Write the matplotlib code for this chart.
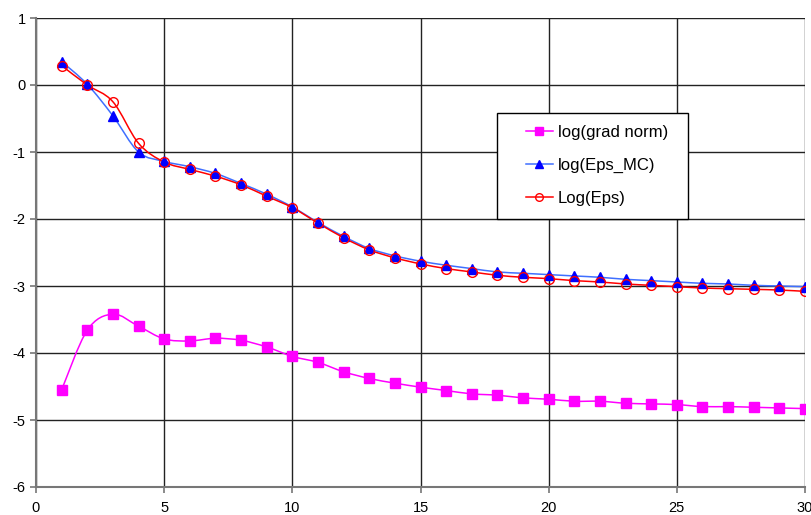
import numpy as np
import matplotlib
matplotlib.use("Agg")
import matplotlib.pyplot as plt
from matplotlib.path import Path
from matplotlib.patches import PathPatch, Rectangle
from matplotlib.lines import Line2D

plt.rcParams['font.family'] = ['Liberation Sans', 'DejaVu Sans']
plt.rcParams['axes.unicode_minus'] = False

x = list(range(1, 31))
grad_norm = [-4.55, -3.66, -3.42, -3.60, -3.79, -3.82, -3.78, -3.81, -3.91, -4.05,
             -4.14, -4.28, -4.38, -4.45, -4.51, -4.56, -4.61, -4.63, -4.67, -4.69,
             -4.72, -4.72, -4.75, -4.76, -4.77, -4.80, -4.80, -4.81, -4.82, -4.83]
eps_mc = [0.35, 0.01, -0.46, -1.00, -1.14, -1.22, -1.32, -1.47, -1.63, -1.82,
          -2.05, -2.26, -2.44, -2.55, -2.63, -2.69, -2.74, -2.79, -2.81, -2.83,
          -2.85, -2.87, -2.90, -2.92, -2.94, -2.96, -2.97, -2.99, -3.00, -3.01]
eps = [0.29, 0.00, -0.25, -0.87, -1.15, -1.26, -1.36, -1.49, -1.66, -1.83,
       -2.06, -2.28, -2.46, -2.58, -2.67, -2.74, -2.79, -2.84, -2.87, -2.89,
       -2.92, -2.94, -2.97, -2.99, -3.01, -3.03, -3.04, -3.05, -3.06, -3.08]
labels = ["log(grad norm)", "log(Eps_MC)", "Log(Eps)"]

W, H = 811, 515
L, R, T, B = 36, 805, 18, 487
fig = plt.figure(figsize=(W / 100, H / 100), dpi=100)
ax = fig.add_axes([L / W, 1 - B / H, (R - L) / W, (B - T) / H])


def ax_xy(px, py):
    return (px - L) / (R - L), 1 - (py - T) / (B - T)


def smooth_path(xs, ys):
    p = np.column_stack([xs, ys]).astype(float)
    n = len(p)
    verts = [p[0]]
    codes = [Path.MOVETO]
    for i in range(n - 1):
        p0 = p[i - 1] if i > 0 else p[i]
        p1 = p[i]
        p2 = p[i + 1]
        p3 = p[i + 2] if i + 2 < n else p[i + 1]
        c1 = p1 + (p2 - p0) / 6.0
        c2 = p2 - (p3 - p1) / 6.0
        verts += [c1, c2, p2]
        codes += [Path.CURVE4] * 3
    return Path(verts, codes)


series = [
    (grad_norm, '#FF00FF', '#FF00FF', 's', '#FF00FF', 6.5, 6.0),
    (eps_mc, '#3F6FFF', '#0000FF', '^', '#0000FF', 7, 6.0),
    (eps, '#FF0000', 'none', 'o', '#FF0000', 7, 5.5),
]
handles = []
for (ys, lc, mfc, mk, mec, ms, lms), lab in zip(series, labels):
    patch = PathPatch(smooth_path(x, ys), facecolor='none', edgecolor=lc, lw=1.1, zorder=3)
    ax.add_patch(patch)
    ax.plot(x, ys, linestyle='none', marker=mk, markersize=ms, markerfacecolor=mfc,
            markeredgecolor=mec, markeredgewidth=1.0, zorder=4)
    handles.append(Line2D([], [], color=lc, lw=1.1, marker=mk, markersize=lms,
                          markerfacecolor=mfc, markeredgecolor=mec))

ax.set_xlim(0, 30)
ax.set_ylim(-6, 1)
ax.set_xticks(range(0, 31, 5))
ax.set_yticks(range(-6, 2))
ax.grid(True, color='#222222', lw=1.0)
ax.set_axisbelow(True)
for s in ['top', 'right']:
    ax.spines[s].set_visible(False)
for s in ['left', 'bottom']:
    ax.spines[s].set_color('#777777')
    ax.spines[s].set_linewidth(1.5)
ax.tick_params(axis='both', labelsize=10.5, length=4, color='#777777', width=1.2)
ax.tick_params(axis='x', pad=6)

# legend box
x0, y0 = ax_xy(497, 219)
x1, y1 = ax_xy(688, 113)
box = Rectangle((x0, y0), x1 - x0, y1 - y0, transform=ax.transAxes, facecolor='white',
                edgecolor='black', lw=1.0, zorder=9)
ax.add_patch(box)
ax_l, ax_t = ax_xy(526, 125)
leg = ax.legend(handles, labels, loc='upper left', bbox_to_anchor=(ax_l, ax_t),
                fontsize=12, frameon=False, handlelength=1.6, handletextpad=0.3,
                borderpad=0, labelspacing=1.08, borderaxespad=0)
leg.set_zorder(10)

fig.savefig('out.png', dpi=100)
